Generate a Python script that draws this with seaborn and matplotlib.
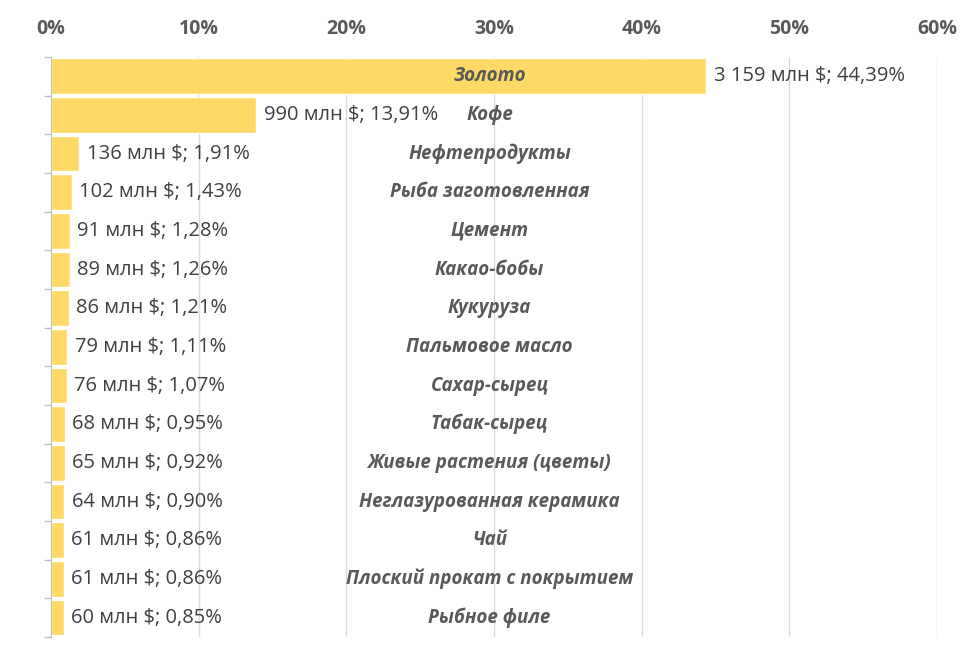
import matplotlib
matplotlib.use("Agg")
import matplotlib.pyplot as plt
import seaborn as sns
import pandas as pd
from matplotlib.ticker import FuncFormatter, MultipleLocator

# Данные с графика
categories = ["Золото", "Кофе", "Нефтепродукты", "Рыба заготовленная", "Цемент",
              "Какао-бобы", "Кукуруза", "Пальмовое масло", "Сахар-сырец",
              "Табак-сырец", "Живые растения (цветы)", "Неглазурованная керамика",
              "Чай", "Плоский прокат с покрытием", "Рыбное филе"]
values_mln = ["3 159", "990", "136", "102", "91", "89", "86", "79", "76",
              "68", "65", "64", "61", "61", "60"]
shares = [44.39, 13.91, 1.91, 1.43, 1.28, 1.26, 1.21, 1.11, 1.07,
          0.95, 0.92, 0.90, 0.86, 0.86, 0.85]

df = pd.DataFrame({"cat": categories, "share": shares, "mln": values_mln})

sns.set_style("white")
plt.rcParams["font.family"] = ["Open Sans", "DejaVu Sans"]

fig = plt.figure(figsize=(9.8, 6.62), dpi=100)
ax = fig.add_axes([0.052, 0.038, 0.904, 0.876])

sns.barplot(data=df, x="share", y="cat", orient="h", color="#FFD966",
            saturation=1, width=0.92, ax=ax)

ax.set_xlim(0, 60)
ax.xaxis.set_major_locator(MultipleLocator(10))
ax.xaxis.set_major_formatter(FuncFormatter(lambda v, p: f"{v:.0f}%"))
ax.xaxis.tick_top()
ax.tick_params(axis="x", length=0, pad=13, labelsize=14, labelcolor="#595959")
for lbl in ax.get_xticklabels():
    lbl.set_fontweight("bold")
ax.grid(axis="x", color="#D9D9D9", linewidth=1)
ax.set_axisbelow(True)

ax.set_yticks([i - 0.5 for i in range(len(categories) + 1)])
ax.set_yticklabels([])
ax.set_ylim(len(categories) - 0.5, -0.5)
ax.tick_params(axis="y", length=5, color="#BFBFBF", width=1, left=True)
ax.set_xlabel("")
ax.set_ylabel("")

for s in ["top", "right", "bottom"]:
    ax.spines[s].set_visible(False)
ax.spines["left"].set_color("#BFBFBF")

for i, row in df.iterrows():
    ax.text(row["share"] + 0.5, i, f"{row['mln']} млн $; {row['share']:.2f}%".replace(".", ","),
            va="center", ha="left", fontsize=14.5, color="#404040")
    ax.text(29.7, i, row["cat"], va="center", ha="center", fontsize=13.5,
            fontweight="bold", fontstyle="italic", color="#595959")

fig.savefig("out.png", dpi=100)
